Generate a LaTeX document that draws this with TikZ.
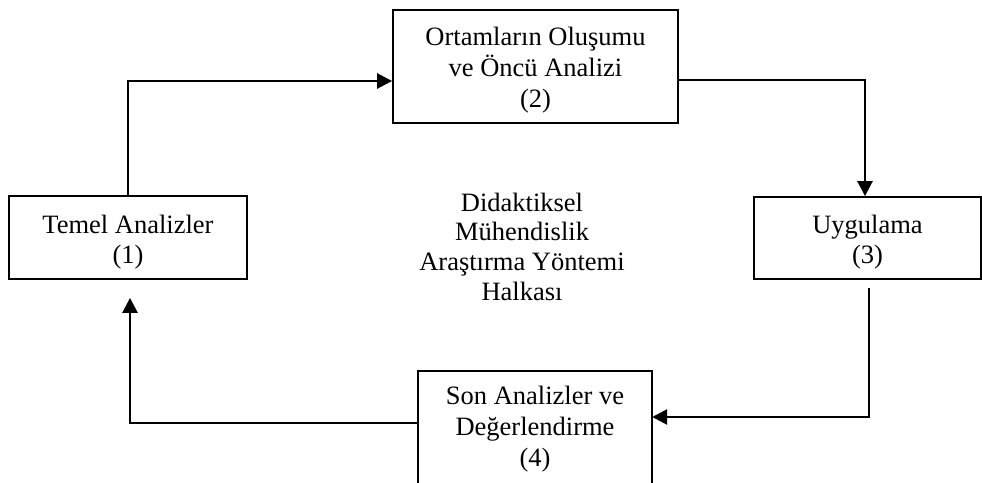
\documentclass[tikz,border=0pt]{standalone}
\usepackage{fontspec}
\setmainfont{Liberation Serif}
\usetikzlibrary{arrows.meta}
\begin{document}
\begin{tikzpicture}[x=1pt,y=-1pt,
  stagebox/.style={draw, line width=1.8pt, inner sep=0pt},
  stagetext/.style={inner sep=0pt, align=center,
    font=\fontsize{26.5}{31}\selectfont},
  flow/.style={line width=2.6pt, -{Triangle[length=15pt,width=15pt]}}]
\useasboundingbox (0,0) rectangle (982,482);
\begin{scope}
\clip (0,0) rectangle (982,482);

% the four stages of the cycle: frames first, then their captions
\node[stagebox, minimum width=238pt, minimum height=83pt] (b1) at (128,237.5) {};
\node[stagebox, minimum width=285pt, minimum height=113pt] (b2) at (535.5,66.5) {};
\node[stagebox, minimum width=227pt, minimum height=82pt] (b3) at (867.5,238) {};
\node[inner sep=0pt, minimum width=234pt, minimum height=110pt] (b4) at (535,426) {};
\draw[line width=1.8pt] ([yshift=-30pt]b4.south west) -- (b4.north west)
  -- (b4.north east) -- ([yshift=-30pt]b4.south east);

\node[stagetext, font=\fontsize{26.5}{30}\selectfont] (t1) at ([yshift=-4.5pt]b1.center)
  {Temel Analizler\\(1)};
\node[stagetext] (t2) at ([yshift=-3.5pt]b2.center)
  {Ortamların Oluşumu\\ve Öncü Analizi\\(2)};
\node[stagetext, font=\fontsize{26.5}{30}\selectfont] (t3) at ([yshift=-4.5pt]b3.center)
  {Uygulama\\(3)};
\node[stagetext] (t4) at ([yshift=-3pt]b4.center)
  {Son Analizler ve\\Değerlendirme\\(4)};

% title in the middle of the cycle
\node[stagetext, font=\fontsize{26.5}{29.7}\selectfont] (title) at (522,246.5)
  {Didaktiksel\\Mühendislik\\Araştırma Yöntemi\\Halkası};

% connectors between the stages
\draw[flow] (b1.north) |- ([yshift=-14.5pt]b2.west);
\draw[flow] ([yshift=-13.5pt]b2.east) -| ([xshift=-2.5pt]b3.north);
\draw[flow] ([xshift=1.5pt,yshift=-8pt]b3.south) |- ([yshift=9pt]b4.east);
\draw[flow] ([yshift=3pt]b4.west) -| ([xshift=2pt,yshift=-18pt]b1.south);
\end{scope}
\end{tikzpicture}
\end{document}
